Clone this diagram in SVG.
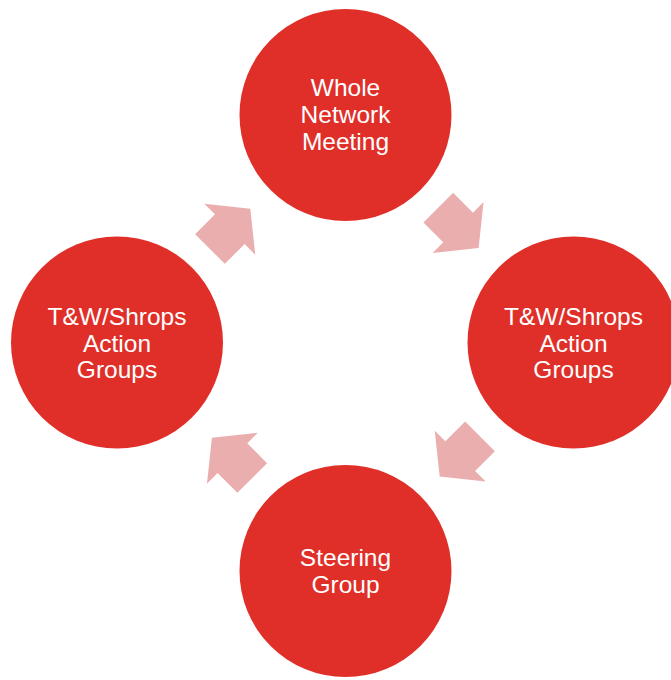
<svg xmlns="http://www.w3.org/2000/svg" width="671" height="680" viewBox="0 0 671 680">
<defs>
<style>
.node{fill:#E02F29;}
.arrow{fill:#EBAEAE;}
.lbl{font-family:"Liberation Sans",Arial,sans-serif;font-size:24.5px;fill:#FFFFFF;text-anchor:middle;}
</style>
<path id="arr" d="M0,-21 L28,-21 L28,-36 L57,0 L28,36 L28,21 L0,21 Z"/>
</defs>
<rect width="671" height="680" fill="#FFFFFF"/>
<g id="connectors">
<use href="#arr" class="arrow" transform="translate(210,249) rotate(-45)"/>
<use href="#arr" class="arrow" transform="translate(438.3,207.7) rotate(45)"/>
<use href="#arr" class="arrow" transform="translate(480,436.3) rotate(135)"/>
<use href="#arr" class="arrow" transform="translate(252.2,478) rotate(225)"/>
</g>
<g id="node-whole">
<circle class="node" cx="345.5" cy="115" r="106"/>
<text class="lbl" x="345.5" y="96">Whole</text>
<text class="lbl" x="345.5" y="123">Network</text>
<text class="lbl" x="345.5" y="150">Meeting</text>
</g>
<g id="node-right">
<circle class="node" cx="573.5" cy="342.5" r="106"/>
<text class="lbl" x="573.5" y="325">T&amp;W/Shrops</text>
<text class="lbl" x="573.5" y="352">Action</text>
<text class="lbl" x="573.5" y="378">Groups</text>
</g>
<g id="node-steering">
<circle class="node" cx="345.5" cy="571" r="106"/>
<text class="lbl" x="345.5" y="566">Steering</text>
<text class="lbl" x="345.5" y="593">Group</text>
</g>
<g id="node-left">
<circle class="node" cx="117" cy="342.5" r="106"/>
<text class="lbl" x="117" y="325">T&amp;W/Shrops</text>
<text class="lbl" x="117" y="352">Action</text>
<text class="lbl" x="117" y="378">Groups</text>
</g>
</svg>
